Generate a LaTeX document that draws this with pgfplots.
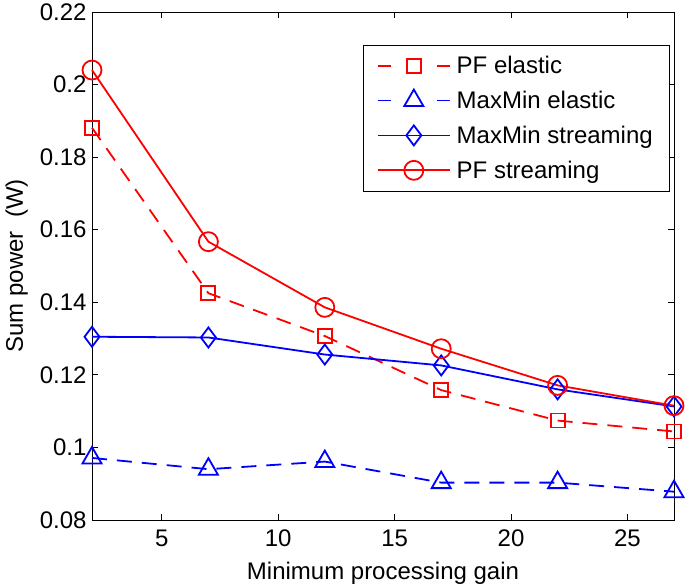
\documentclass[border=0pt]{standalone}
\usepackage{fontspec}
\setmainfont{Liberation Sans}
\usepackage{pgfplots}
\pgfplotsset{compat=1.18}
\definecolor{mred}{rgb}{1,0,0}
\definecolor{mblue}{rgb}{0,0,1}
\begin{document}
\begin{tikzpicture}
\begin{axis}[
  name=ax, at={(0,0)}, anchor=south west,
  scale only axis, width=582pt, height=508pt,
  xmin=2, xmax=27, ymin=0.08, ymax=0.22,
  xtick={5,10,15,20,25},
  ytick={0.08,0.1,0.12,0.14,0.16,0.18,0.2,0.22},
  yticklabel style={/pgf/number format/fixed,/pgf/number format/precision=2},
  /pgf/number format/assume math mode=true,
  tick align=inside, tick pos=both,
  major tick length=6pt,
  every tick/.style={black, line width=0.8pt},
  axis line style={line width=0.8pt},
  font=\fontsize{24}{28}\selectfont,
  tick label style={font=\fontsize{24}{28}\selectfont},
  xticklabel style={yshift=-6pt},
  yticklabel style={xshift=-2pt},
  xlabel={Minimum processing gain},
  ylabel={Sum power\ \ (W)},
  xlabel style={yshift=-9pt},
  ylabel style={yshift=5pt},
  clip=false,
  legend style={at={(0.9914,0.935)}, anchor=north east, draw=black,
    font=\fontsize{24}{28}\selectfont, inner xsep=14pt, inner ysep=9pt,
    row sep=12pt, cells={anchor=west},
    /tikz/every odd column/.append style={column sep=4pt}},
  legend cell align=left,
]
\addplot[mred, line width=1.8pt, dash pattern=on 15pt off 10pt, mark=square, mark size=7pt, mark options={solid},
  legend image code/.code={\draw[line width=1.8pt,mark repeat=2,mark phase=2,dash pattern=on 13pt off 46pt] plot coordinates {(0pt,0pt) (36pt,0pt) (72pt,0pt)};}]
  coordinates {(2,0.1881) (7,0.1425) (12,0.1307) (17,0.1158) (22,0.1074) (27,0.1044)};
\addlegendentry{PF elastic}
\addplot[mblue, line width=1.8pt, dash pattern=on 15pt off 10pt, mark=triangle, mark size=11pt, mark options={solid},
  legend image code/.code={\draw[line width=1.8pt,mark repeat=2,mark phase=2,dash pattern=on 13pt off 46pt] plot coordinates {(0pt,0pt) (36pt,0pt) (72pt,0pt)};}]
  coordinates {(2,0.0971) (7,0.0940) (12,0.0961) (17,0.0903) (22,0.0903) (27,0.0878)};
\addlegendentry{MaxMin elastic}
\addplot[mblue, line width=1.8pt, mark=diamond, mark size=10pt, mark options={solid},
  legend image code/.code={\draw[line width=1.8pt,mark repeat=2,mark phase=2] plot coordinates {(0pt,0pt) (36pt,0pt) (72pt,0pt)};}]
  coordinates {(2,0.1305) (7,0.1303) (12,0.1256) (17,0.1226) (22,0.1160) (27,0.1113)};
\addlegendentry{MaxMin streaming}
\addplot[mred, line width=1.8pt, mark=o, mark size=9.5pt, mark options={solid},
  legend image code/.code={\draw[line width=1.8pt,mark repeat=2,mark phase=2] plot coordinates {(0pt,0pt) (36pt,0pt) (72pt,0pt)};}]
  coordinates {(2,0.2040) (7,0.1567) (12,0.1386) (17,0.1272) (22,0.1171) (27,0.1115)};
\addlegendentry{PF streaming}
\end{axis}
\pgfresetboundingbox
\path (-92pt,-65pt) rectangle (593pt,520pt);
\end{tikzpicture}
\end{document}
